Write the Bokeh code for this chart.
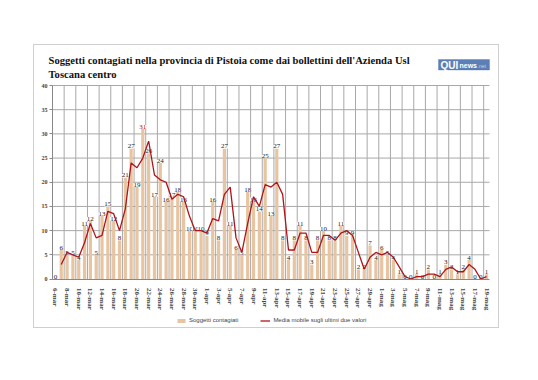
import math
from bokeh.plotting import figure
from bokeh.layouts import column, row
from bokeh.models import (Range1d, FixedTicker, ColumnDataSource, Legend, LegendItem, Label,
                          Spacer, BoxAnnotation)
from bokeh.core.properties import value
from bokeh.embed import file_html
from bokeh.resources import INLINE

# ---- data ----
month_spans = [("mar", 6, 31), ("apr", 1, 30), ("mag", 1, 19)]
dates = [f"{d}-{m}" for m, a, b in month_spans for d in range(a, b + 1)]

cases = [0, 6, 5, 5, 4, 11, 12, 5, 13, 15, 12, 8, 21, 27, 19, 31, 26, 17, 24, 16,
         17, 18, 16, 10, 10, 10,                       # march
         9, 16, 8, 27, 11, 6, 5, 18, 16, 14, 25, 13, 27, 8, 4, 8, 11, 8, 3, 8,
         10, 8, 8, 11, 9, 9, 2, 2, 7, 4,               # april
         6, 5, 4, 1, 0, 0, 1, 0, 2, 0, 1, 3, 2, 1, 2, 4, 0, 0, 1]  # may

title_lines = ["Soggetti contagiati nella provincia di Pistoia come dai bollettini dell'Azienda Usl",
               "Toscana centro"]
bar_label = "Soggetti contagiati"
line_label = "Media mobile sugli ultimi due valori"
y_ticks = [0, 5, 10, 15, 20, 25, 30, 35, 40]

# moving average over the last two values
ma_x = list(range(1, len(cases)))
ma_y = [(cases[i - 1] + cases[i]) / 2 for i in ma_x]

n = len(cases)
idx = list(range(n))
src = ColumnDataSource(dict(x=idx, y=cases, lab=[str(v) for v in cases],
                            col=["#c00000" if v == max(cases) else "#1a1a1a" for v in cases]))

BAR = "#e8c4a0"
RED = "#b0141a"
GRID = "#a8a8a8"

# ---- geometry: the frame covers the whole chart box; axes are placed inside ----
W, H = 464, 282
FL, FR, FT, FB = 18, 9, 40, 48.5            # distances of the data area from the box edges
XPX = (W - FL - FR) / n                      # px per day
YPX = (H - FT - FB) / 40.0                   # px per unit
x_lo = -0.5 - FL / XPX
x_hi = x_lo + W / XPX
y_hi = 40 + FT / YPX
y_lo = y_hi - H / YPX

def dx(px):   # horizontal pixel offset from box left -> data x
    return x_lo + px / XPX

def dy(py):   # vertical pixel offset from box top -> data y
    return y_hi - py / YPX

p = figure(width=W, height=H, output_backend="svg", toolbar_location=None,
           x_range=Range1d(x_lo, x_hi), y_range=Range1d(y_lo, y_hi), min_border=0)
p.title.visible = False
p.styles = {"outline": "1px solid #cfcfcf"}
p.outline_line_color = None
p.background_fill_color = "white"
p.border_fill_color = "white"
p.xgrid.visible = False
p.ygrid.visible = False

# gridlines
vg = [i + 1.5 for i in range(0, n - 1, 2)]
p.segment(x0=vg, y0=[0] * len(vg), x1=vg, y1=[40] * len(vg), line_color=GRID, line_width=1)
hg = y_ticks[1:]
p.segment(x0=[-0.5] * len(hg), y0=hg, x1=[n - 0.5] * len(hg), y1=hg, line_color=GRID, line_width=1)

bars = p.vbar(x="x", top="y", width=0.55, source=src, fill_color=BAR, line_color=None)
p.text(x="x", y="y", text="lab", source=src, text_align="center", text_baseline="bottom",
       text_font=value("Liberation Serif"), text_font_size="7px", text_color="col",
       background_fill_color="white")
line = p.line(ma_x, ma_y, line_color=RED, line_width=1.3)

# axes (fixed inside the frame)
p.xaxis.fixed_location = 0
p.xaxis.bounds = (-0.5, n - 0.5)
p.xaxis.ticker = FixedTicker(ticks=list(range(0, n, 2)))
p.xaxis.major_label_overrides = {i: dates[i] for i in range(0, n, 2)}
p.xaxis.major_label_orientation = -math.pi / 2
p.xaxis.major_label_text_font = "Liberation Serif"
p.xaxis.major_label_text_font_style = "bold"
p.xaxis.major_label_text_font_size = "7px"
p.xaxis.major_label_standoff = 3
p.xaxis.major_tick_line_color = None
p.xaxis.minor_tick_line_color = None
p.xaxis.axis_line_color = "#888888"

p.yaxis.fixed_location = -0.5
p.yaxis.bounds = (0, 40)
p.yaxis.ticker = FixedTicker(ticks=y_ticks)
p.yaxis.major_label_text_font = "Liberation Serif"
p.yaxis.major_label_text_font_style = "bold"
p.yaxis.major_label_text_font_size = "6px"
p.yaxis.major_label_standoff = 2
p.yaxis.major_tick_out = 3
p.yaxis.major_tick_in = 0
p.yaxis.minor_tick_line_color = None
p.yaxis.axis_line_color = "#888888"
p.yaxis.major_tick_line_color = "#888888"

# title
for k, t in enumerate(title_lines):
    p.add_layout(Label(x=dx(14), y=dy(15 + 13.6 * k), text=t, text_font="Liberation Serif",
                       text_font_size="10.6px", text_font_style="bold", text_color="#111111",
                       text_baseline="middle"))

# logo
p.add_layout(BoxAnnotation(left=dx(404), right=dx(455), top=dy(14), bottom=dy(24.5),
                           fill_color="#5b7fb6", fill_alpha=1, line_color="#45689c"))
p.add_layout(Label(x=dx(406), y=dy(19.5), text="QUI", text_font="Liberation Sans",
                   text_font_size="10px", text_font_style="bold", text_color="white",
                   text_baseline="middle"))
p.add_layout(Label(x=dx(425), y=dy(20), text="news", text_font="Liberation Sans",
                   text_font_size="7px", text_font_style="bold", text_color="white",
                   text_baseline="middle"))
p.add_layout(Label(x=dx(443), y=dy(20.5), text=".net", text_font="Liberation Sans",
                   text_font_size="5px", text_color="#c8d4e8", text_baseline="middle"))

legend = Legend(items=[LegendItem(label=bar_label, renderers=[bars]),
                       LegendItem(label=line_label, renderers=[line])],
                orientation="horizontal", location=(142, 4),
                label_text_font="Liberation Sans", label_text_font_size="6px",
                glyph_width=10, glyph_height=5, label_standoff=3, spacing=22,
                margin=0, padding=1, border_line_color=None, background_fill_alpha=0)
p.add_layout(legend)

page = column(Spacer(height=45), row(Spacer(width=34), p))
open("out.html", "w").write(file_html(page, INLINE))
